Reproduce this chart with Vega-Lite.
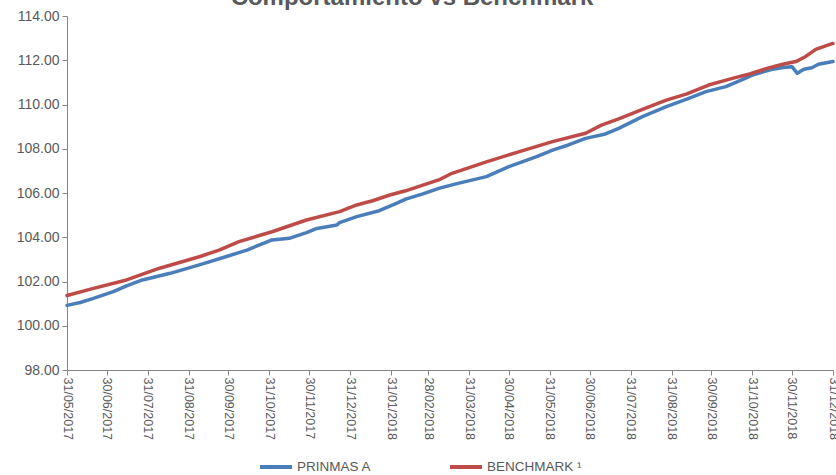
{
  "$schema": "https://vega.github.io/schema/vega-lite/v6.json",
  "width": 766,
  "height": 354,
  "autosize": {"type": "none"},
  "padding": {"left": 67, "top": 16, "right": 3, "bottom": 105},
  "background": "white",
  "title": {
    "text": "Comportamiento vs Benchmark",
    "font": "Liberation Sans",
    "fontSize": 24,
    "fontWeight": "bold",
    "color": "#595959",
    "anchor": "middle",
    "frame": "group",
    "baseline": "alphabetic",
    "offset": -20,
    "dx": -38
  },
  "config": {
    "view": {"stroke": null},
    "axis": {
      "grid": false,
      "domainColor": "#868686",
      "tickColor": "#868686",
      "labelColor": "#595959",
      "labelFont": "Liberation Sans",
      "tickSize": 5,
      "title": null
    }
  },
  "data": {
    "values": [
      {"date": "2017-05-31", "serie": "PRINMAS A", "valor": 100.92},
      {"date": "2017-06-10", "serie": "PRINMAS A", "valor": 101.05},
      {"date": "2017-06-20", "serie": "PRINMAS A", "valor": 101.24},
      {"date": "2017-07-05", "serie": "PRINMAS A", "valor": 101.54},
      {"date": "2017-07-15", "serie": "PRINMAS A", "valor": 101.80},
      {"date": "2017-07-27", "serie": "PRINMAS A", "valor": 102.07},
      {"date": "2017-08-17", "serie": "PRINMAS A", "valor": 102.37},
      {"date": "2017-09-08", "serie": "PRINMAS A", "valor": 102.75},
      {"date": "2017-09-28", "serie": "PRINMAS A", "valor": 103.12},
      {"date": "2017-10-14", "serie": "PRINMAS A", "valor": 103.42},
      {"date": "2017-11-02", "serie": "PRINMAS A", "valor": 103.88},
      {"date": "2017-11-15", "serie": "PRINMAS A", "valor": 103.95},
      {"date": "2017-11-28", "serie": "PRINMAS A", "valor": 104.21},
      {"date": "2017-12-06", "serie": "PRINMAS A", "valor": 104.40},
      {"date": "2017-12-21", "serie": "PRINMAS A", "valor": 104.55},
      {"date": "2017-12-23", "serie": "PRINMAS A", "valor": 104.66},
      {"date": "2018-01-05", "serie": "PRINMAS A", "valor": 104.93},
      {"date": "2018-01-22", "serie": "PRINMAS A", "valor": 105.20},
      {"date": "2018-02-04", "serie": "PRINMAS A", "valor": 105.53},
      {"date": "2018-02-11", "serie": "PRINMAS A", "valor": 105.72},
      {"date": "2018-02-24", "serie": "PRINMAS A", "valor": 105.96},
      {"date": "2018-03-08", "serie": "PRINMAS A", "valor": 106.21},
      {"date": "2018-03-21", "serie": "PRINMAS A", "valor": 106.41},
      {"date": "2018-04-13", "serie": "PRINMAS A", "valor": 106.74},
      {"date": "2018-04-30", "serie": "PRINMAS A", "valor": 107.19},
      {"date": "2018-05-21", "serie": "PRINMAS A", "valor": 107.64},
      {"date": "2018-06-02", "serie": "PRINMAS A", "valor": 107.94},
      {"date": "2018-06-14", "serie": "PRINMAS A", "valor": 108.17},
      {"date": "2018-06-27", "serie": "PRINMAS A", "valor": 108.47},
      {"date": "2018-07-12", "serie": "PRINMAS A", "valor": 108.67},
      {"date": "2018-07-22", "serie": "PRINMAS A", "valor": 108.92},
      {"date": "2018-08-09", "serie": "PRINMAS A", "valor": 109.45},
      {"date": "2018-08-27", "serie": "PRINMAS A", "valor": 109.90},
      {"date": "2018-09-11", "serie": "PRINMAS A", "valor": 110.23},
      {"date": "2018-09-26", "serie": "PRINMAS A", "valor": 110.58},
      {"date": "2018-10-11", "serie": "PRINMAS A", "valor": 110.81},
      {"date": "2018-10-23", "serie": "PRINMAS A", "valor": 111.11},
      {"date": "2018-10-31", "serie": "PRINMAS A", "valor": 111.33},
      {"date": "2018-11-15", "serie": "PRINMAS A", "valor": 111.59},
      {"date": "2018-11-25", "serie": "PRINMAS A", "valor": 111.68},
      {"date": "2018-11-30", "serie": "PRINMAS A", "valor": 111.71},
      {"date": "2018-12-04", "serie": "PRINMAS A", "valor": 111.41},
      {"date": "2018-12-09", "serie": "PRINMAS A", "valor": 111.59},
      {"date": "2018-12-15", "serie": "PRINMAS A", "valor": 111.66},
      {"date": "2018-12-20", "serie": "PRINMAS A", "valor": 111.82},
      {"date": "2018-12-31", "serie": "PRINMAS A", "valor": 111.94},
      {"date": "2017-05-31", "serie": "BENCHMARK ¹", "valor": 101.37},
      {"date": "2017-06-20", "serie": "BENCHMARK ¹", "valor": 101.69},
      {"date": "2017-07-15", "serie": "BENCHMARK ¹", "valor": 102.07},
      {"date": "2017-08-09", "serie": "BENCHMARK ¹", "valor": 102.60},
      {"date": "2017-09-08", "serie": "BENCHMARK ¹", "valor": 103.12},
      {"date": "2017-09-23", "serie": "BENCHMARK ¹", "valor": 103.42},
      {"date": "2017-10-08", "serie": "BENCHMARK ¹", "valor": 103.80},
      {"date": "2017-11-02", "serie": "BENCHMARK ¹", "valor": 104.25},
      {"date": "2017-11-28", "serie": "BENCHMARK ¹", "valor": 104.78},
      {"date": "2017-12-23", "serie": "BENCHMARK ¹", "valor": 105.16},
      {"date": "2018-01-05", "serie": "BENCHMARK ¹", "valor": 105.46},
      {"date": "2018-01-17", "serie": "BENCHMARK ¹", "valor": 105.65},
      {"date": "2018-01-30", "serie": "BENCHMARK ¹", "valor": 105.91},
      {"date": "2018-02-11", "serie": "BENCHMARK ¹", "valor": 106.10},
      {"date": "2018-02-24", "serie": "BENCHMARK ¹", "valor": 106.36},
      {"date": "2018-03-08", "serie": "BENCHMARK ¹", "valor": 106.59},
      {"date": "2018-03-18", "serie": "BENCHMARK ¹", "valor": 106.89},
      {"date": "2018-04-13", "serie": "BENCHMARK ¹", "valor": 107.41},
      {"date": "2018-05-08", "serie": "BENCHMARK ¹", "valor": 107.87},
      {"date": "2018-06-02", "serie": "BENCHMARK ¹", "valor": 108.32},
      {"date": "2018-06-27", "serie": "BENCHMARK ¹", "valor": 108.70},
      {"date": "2018-07-09", "serie": "BENCHMARK ¹", "valor": 109.07},
      {"date": "2018-07-22", "serie": "BENCHMARK ¹", "valor": 109.35},
      {"date": "2018-08-09", "serie": "BENCHMARK ¹", "valor": 109.78},
      {"date": "2018-08-27", "serie": "BENCHMARK ¹", "valor": 110.20},
      {"date": "2018-09-11", "serie": "BENCHMARK ¹", "valor": 110.47},
      {"date": "2018-09-28", "serie": "BENCHMARK ¹", "valor": 110.88},
      {"date": "2018-10-16", "serie": "BENCHMARK ¹", "valor": 111.18},
      {"date": "2018-10-29", "serie": "BENCHMARK ¹", "valor": 111.38},
      {"date": "2018-11-11", "serie": "BENCHMARK ¹", "valor": 111.63},
      {"date": "2018-11-23", "serie": "BENCHMARK ¹", "valor": 111.82},
      {"date": "2018-12-03", "serie": "BENCHMARK ¹", "valor": 111.94},
      {"date": "2018-12-10", "serie": "BENCHMARK ¹", "valor": 112.16},
      {"date": "2018-12-18", "serie": "BENCHMARK ¹", "valor": 112.49},
      {"date": "2018-12-26", "serie": "BENCHMARK ¹", "valor": 112.66},
      {"date": "2018-12-31", "serie": "BENCHMARK ¹", "valor": 112.76}
    ]
  },
  "mark": {"type": "line", "strokeWidth": 3.5, "strokeJoin": "round", "strokeCap": "round"},
  "encoding": {
    "x": {
      "field": "date",
      "type": "temporal",
      "scale": {
        "type": "utc",
        "nice": false,
        "domain": [
          {"year": 2017, "month": 5, "date": 31, "utc": true},
          {"year": 2018, "month": 12, "date": 31, "utc": true}
        ]
      },
      "axis": {
        "values": [
          {"year": 2017, "month": 5, "date": 31, "utc": true},
          {"year": 2017, "month": 6, "date": 30, "utc": true},
          {"year": 2017, "month": 7, "date": 31, "utc": true},
          {"year": 2017, "month": 8, "date": 31, "utc": true},
          {"year": 2017, "month": 9, "date": 30, "utc": true},
          {"year": 2017, "month": 10, "date": 31, "utc": true},
          {"year": 2017, "month": 11, "date": 30, "utc": true},
          {"year": 2017, "month": 12, "date": 31, "utc": true},
          {"year": 2018, "month": 1, "date": 31, "utc": true},
          {"year": 2018, "month": 2, "date": 28, "utc": true},
          {"year": 2018, "month": 3, "date": 31, "utc": true},
          {"year": 2018, "month": 4, "date": 30, "utc": true},
          {"year": 2018, "month": 5, "date": 31, "utc": true},
          {"year": 2018, "month": 6, "date": 30, "utc": true},
          {"year": 2018, "month": 7, "date": 31, "utc": true},
          {"year": 2018, "month": 8, "date": 31, "utc": true},
          {"year": 2018, "month": 9, "date": 30, "utc": true},
          {"year": 2018, "month": 10, "date": 31, "utc": true},
          {"year": 2018, "month": 11, "date": 30, "utc": true},
          {"year": 2018, "month": 12, "date": 31, "utc": true}
        ],
        "labelExpr": "utcFormat(datum.value, '%d/%m/%Y')",
        "labelAngle": 90,
        "labelAlign": "left",
        "labelBaseline": "middle",
        "labelFontSize": 12.5,
        "labelPadding": 2,
        "labelOverlap": false,
        "labelFlush": false,
        "labelBound": false
      }
    },
    "y": {
      "field": "valor",
      "type": "quantitative",
      "scale": {"domain": [98, 114], "nice": false, "zero": false},
      "axis": {
        "values": [98, 100, 102, 104, 106, 108, 110, 112, 114],
        "format": ".2f",
        "labelFontSize": 14,
        "labelPadding": 3
      }
    },
    "color": {
      "field": "serie",
      "type": "nominal",
      "scale": {
        "domain": ["PRINMAS A", "BENCHMARK ¹"],
        "range": ["#4A7EBB", "#BE4B48"]
      },
      "legend": {
        "title": null,
        "orient": "none",
        "direction": "horizontal",
        "legendX": 191,
        "legendY": 433,
        "symbolType": "stroke",
        "symbolSize": 1024,
        "symbolStrokeWidth": 4,
        "labelFont": "Liberation Sans",
        "labelFontSize": 13.5,
        "labelColor": "#595959",
        "labelOffset": 3,
        "columnPadding": 70
      }
    }
  }
}
